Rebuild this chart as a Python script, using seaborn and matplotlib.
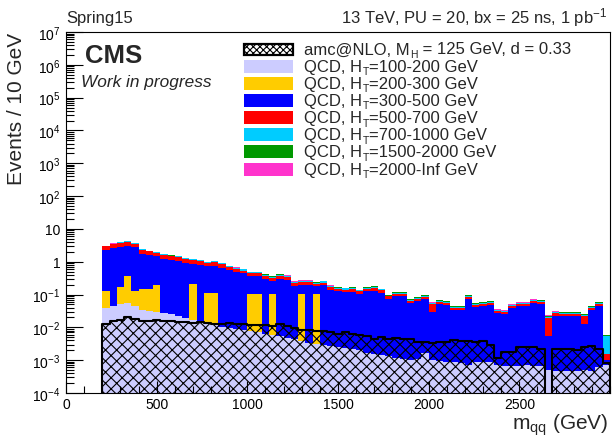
import numpy as np
import pandas as pd
import matplotlib
matplotlib.use("Agg")
import matplotlib.pyplot as plt
import seaborn as sns
from matplotlib.patches import Rectangle
from matplotlib.ticker import MultipleLocator, LogLocator, NullFormatter

sns.set_style("ticks")
plt.rcParams["font.family"] = ["Liberation Sans", "DejaVu Sans"]
plt.rcParams["mathtext.fontset"] = "custom"
plt.rcParams["mathtext.rm"] = "Liberation Sans"
plt.rcParams["mathtext.it"] = "Liberation Sans:italic"
plt.rcParams["mathtext.bf"] = "Liberation Sans:bold"
plt.rcParams["hatch.linewidth"] = 0.8
plt.rcParams["hatch.color"] = "black"

# ---------------- data (40 GeV bins from 200 to 3000 GeV) ----------------
bin_low = list(range(200, 3000, 40))
bin_width = 40

qcd_100_200 = [0.040, 0.045, 0.050, 0.055, 0.045, 0.035, 0.032, 0.030, 0.027, 0.025,
               0.022, 0.019, 0.017, 0.015, 0.013, 0.012, 0.0105, 0.0098, 0.0090, 0.0083,
               0.0076, 0.0070, 0.0064, 0.0058, 0.0053, 0.0048, 0.0043, 0.0038, 0.0034, 0.0031,
               0.0030, 0.0028, 0.0026, 0.0024, 0.0022, 0.0020, 0.0017, 0.0015, 0.0014, 0.0013,
               0.0012, 0.0011, 0.0010, 0.00105, 0.0016, 0.0010, 0.00095, 0.0009, 0.0009, 0.0008,
               0.0007, 0.0009, 0.00088, 0.00085, 0.0007, 0.00068, 0.00068, 0.00068, 0.0007, 0.00068,
               0.00065, 0.0005, 0.00048, 0.00048, 0.00048, 0.00048, 0.0005, 0.00048, 0.0006, 0.0007]

qcd_200_300 = [0.09, 0.0, 0.12, 0.30, 0.085, 0.11, 0.12, 0.17, 0.0, 0.0,
               0.0, 0.0, 0.20, 0.0, 0.10, 0.10, 0.0, 0.0, 0.0, 0.0,
               0.10, 0.10, 0.0, 0.10, 0.0, 0.0, 0.0, 0.10, 0.0, 0.10,
               0.0, 0.0, 0.0, 0.0, 0.0, 0.0, 0.0, 0.0, 0.0, 0.0,
               0.0, 0.0, 0.0, 0.0, 0.0, 0.0, 0.0, 0.0, 0.0, 0.0,
               0.0, 0.0, 0.0, 0.0, 0.0, 0.0, 0.0, 0.0, 0.0, 0.0,
               0.0, 0.0, 0.0, 0.0, 0.0, 0.0, 0.0, 0.0, 0.0, 0.0]

qcd_300_500 = [2.11, 2.56, 2.65, 2.75, 2.62, 1.59, 1.44, 1.25, 1.20, 1.10,
               1.03, 0.92, 0.65, 0.78, 0.61, 0.65, 0.64, 0.55, 0.49, 0.44,
               0.26, 0.26, 0.30, 0.16, 0.30, 0.28, 0.18, 0.096, 0.197, 0.075,
               0.19, 0.137, 0.123, 0.116, 0.12, 0.102, 0.124, 0.131, 0.11, 0.074,
               0.089, 0.089, 0.055, 0.063, 0.073, 0.029, 0.052, 0.048, 0.033, 0.032,
               0.074, 0.040, 0.043, 0.046, 0.026, 0.024, 0.037, 0.043, 0.043, 0.053,
               0.052, 0.0048, 0.022, 0.022, 0.022, 0.022, 0.0121, 0.034, 0.045, 0.0003]

qcd_500_700 = [0.68, 0.79, 0.86, 0.95, 0.84, 0.53, 0.48, 0.44, 0.37, 0.34,
               0.32, 0.29, 0.26, 0.24, 0.22, 0.23, 0.20, 0.114, 0.10, 0.09,
               0.075, 0.075, 0.063, 0.054, 0.063, 0.057, 0.038, 0.040, 0.040, 0.036,
               0.039, 0.029, 0.026, 0.024, 0.025, 0.021, 0.026, 0.027, 0.023, 0.012,
               0.014, 0.014, 0.009, 0.010, 0.012, 0.020, 0.008, 0.008, 0.006, 0.006,
               0.012, 0.007, 0.007, 0.008, 0.0045, 0.004, 0.006, 0.007, 0.007, 0.009,
               0.0085, 0.014, 0.004, 0.0036, 0.0036, 0.0036, 0.010, 0.0055, 0.007, 0.0005]

qcd_700_1000 = [0.155, 0.18, 0.195, 0.215, 0.19, 0.12, 0.11, 0.10, 0.085, 0.078,
                0.072, 0.065, 0.06, 0.055, 0.05, 0.053, 0.045, 0.053, 0.047, 0.042,
                0.035, 0.035, 0.029, 0.025, 0.029, 0.027, 0.018, 0.019, 0.019, 0.017,
                0.018, 0.013, 0.012, 0.011, 0.012, 0.010, 0.012, 0.013, 0.011, 0.006,
                0.007, 0.007, 0.0045, 0.005, 0.006, 0.0035, 0.004, 0.004, 0.003, 0.003,
                0.006, 0.0033, 0.0035, 0.0038, 0.002, 0.002, 0.003, 0.0035, 0.0035, 0.0043,
                0.0042, 0.002, 0.0019, 0.0018, 0.0018, 0.0018, 0.0016, 0.0028, 0.0036, 0.004]

qcd_1500_2000 = [0.012, 0.014, 0.016, 0.017, 0.015, 0.010, 0.009, 0.008, 0.007, 0.006,
                 0.006, 0.005, 0.005, 0.004, 0.004, 0.004, 0.004, 0.023, 0.020, 0.018,
                 0.015, 0.015, 0.013, 0.011, 0.013, 0.011, 0.0075, 0.008, 0.008, 0.007,
                 0.008, 0.006, 0.005, 0.005, 0.005, 0.004, 0.005, 0.005, 0.005, 0.005,
                 0.006, 0.006, 0.004, 0.004, 0.005, 0.003, 0.0035, 0.003, 0.0023, 0.0022,
                 0.005, 0.0028, 0.003, 0.003, 0.0018, 0.0017, 0.0025, 0.003, 0.003, 0.0036,
                 0.0035, 0.0012, 0.0016, 0.0015, 0.0015, 0.0015, 0.0013, 0.0023, 0.003, 0.0004]

qcd_2000_inf = [0.009, 0.011, 0.012, 0.013, 0.011, 0.007, 0.007, 0.006, 0.005, 0.005,
                0.004, 0.004, 0.004, 0.003, 0.003, 0.003, 0.003, 0.008, 0.007, 0.006,
                0.005, 0.005, 0.004, 0.004, 0.004, 0.004, 0.0025, 0.003, 0.003, 0.002,
                0.003, 0.002, 0.002, 0.002, 0.002, 0.001, 0.002, 0.002, 0.002, 0.002,
                0.002, 0.002, 0.0015, 0.002, 0.002, 0.0012, 0.0014, 0.0013, 0.0009, 0.0009,
                0.002, 0.0011, 0.0012, 0.0013, 0.0007, 0.0007, 0.001, 0.0012, 0.0012, 0.0014,
                0.0014, 0.0005, 0.0006, 0.0006, 0.0006, 0.0006, 0.0005, 0.0009, 0.0012, 0.0001]

signal_amcnlo = [0.013, 0.016, 0.017, 0.020, 0.018, 0.016, 0.016, 0.017, 0.016, 0.016,
                 0.015, 0.015, 0.014, 0.015, 0.014, 0.013, 0.013, 0.014, 0.013, 0.013,
                 0.012, 0.012, 0.0115, 0.011, 0.0125, 0.011, 0.0095, 0.0085, 0.0085, 0.008,
                 0.0075, 0.007, 0.0065, 0.007, 0.0065, 0.006, 0.0055, 0.0045, 0.005, 0.0045,
                 0.0047, 0.0043, 0.0045, 0.0035, 0.0036, 0.0034, 0.0036, 0.0037, 0.0040, 0.0038,
                 0.0038, 0.0036, 0.0038, 0.0030, 0.0012, 0.0018, 0.0018, 0.0025, 0.0025, 0.0025,
                 0.0022, 0.0, 0.0022, 0.0022, 0.0022, 0.0020, 0.0025, 0.0028, 0.0022, 0.0008]

# legend labels: (main text, subscript, rest)
signal_label = ("amc@NLO, M", "H", " = 125 GeV, d = 0.33")
stack_labels = [("QCD, H", "T", "=100-200 GeV"), ("QCD, H", "T", "=200-300 GeV"),
                ("QCD, H", "T", "=300-500 GeV"), ("QCD, H", "T", "=500-700 GeV"),
                ("QCD, H", "T", "=700-1000 GeV"), ("QCD, H", "T", "=1500-2000 GeV"),
                ("QCD, H", "T", "=2000-Inf GeV")]
stack_colors = ["#ccccff", "#ffcc00", "#0000ff", "#ff0000", "#00ccff", "#009900", "#ff33cc"]

ytick_values = [1e-4, 1e-3, 1e-2, 1e-1, 1, 10, 1e2, 1e3, 1e4, 1e5, 1e6, 1e7]
ytick_labels = [r"10$^{-4}$", r"10$^{-3}$", r"10$^{-2}$", r"10$^{-1}$", "1", "10",
                r"10$^{2}$", r"10$^{3}$", r"10$^{4}$", r"10$^{5}$", r"10$^{6}$", r"10$^{7}$"]
xtick_values = [0, 500, 1000, 1500, 2000, 2500]

# ---------------- figure ----------------
W, H = 612, 439
fig = plt.figure(figsize=(W / 100, H / 100), dpi=100)
ax = fig.add_axes([66 / W, 1 - 394 / H, (610 - 66) / W, (394 - 33) / H])

edges = [float(b) for b in bin_low] + [float(bin_low[-1] + bin_width)]
centers = [b + bin_width / 2 for b in bin_low]

series = [qcd_100_200, qcd_200_300, qcd_300_500, qcd_500_700,
          qcd_700_1000, qcd_1500_2000, qcd_2000_inf]
cum = np.cumsum(np.array(series, dtype=float), axis=0)

# draw like THStack: top cumulative first, each filled from the bottom
for k in range(len(series) - 1, -1, -1):
    df = pd.DataFrame({"m": centers, "w": cum[k]})
    sns.histplot(data=df, x="m", weights="w", bins=edges, element="step", fill=True,
                 color=stack_colors[k], alpha=1, linewidth=0, ax=ax)

# signal: hatched, not stacked
df_sig = pd.DataFrame({"m": centers, "w": signal_amcnlo})
sns.histplot(data=df_sig, x="m", weights="w", bins=edges, element="step",
             fill=True, color="black", facecolor="none", edgecolor="black", hatch="xxx",
             linewidth=1.5, ax=ax)

ax.set_yscale("log")
ax.set_xlim(0, 3000)
ax.set_ylim(1e-4, 1e7)
ax.set_xlabel("")
ax.set_ylabel("")

ax.set_yticks(ytick_values, ytick_labels)
ax.set_xticks(xtick_values, [str(v) for v in xtick_values])
ax.xaxis.set_minor_locator(MultipleLocator(100))
ax.yaxis.set_minor_locator(LogLocator(base=10, subs=np.arange(2, 10), numticks=30))
ax.yaxis.set_minor_formatter(NullFormatter())
ax.tick_params(which="both", direction="in", top=False, right=False, colors="black",
               labelsize=10, width=0.8)
ax.tick_params(axis="y", which="major", length=12, pad=4)
ax.tick_params(axis="y", which="minor", length=6)
ax.tick_params(axis="x", which="major", length=9, pad=3)
ax.tick_params(axis="x", which="minor", length=5)
for s in ax.spines.values():
    s.set_visible(True)
    s.set_linewidth(0.8)
    s.set_color("black")
ax.set_axisbelow(False)


def fx(px):
    return px / W


def fy(py):
    return 1 - py / H


# texts
fig.text(fx(66), fy(18), "Spring15", fontsize=12, ha="left", va="center")
fig.text(fx(607), fy(18), r"13 TeV, PU = 20, bx = 25 ns, 1 pb$^{-1}$", fontsize=12,
         ha="right", va="center")
fig.text(fx(85), fy(56), "CMS", fontsize=18.5, fontweight="bold", ha="left", va="center")
fig.text(fx(81), fy(83), "Work in progress", fontsize=12.4, style="italic",
         ha="left", va="center")
fig.text(fx(16.5), fy(33), "Events / 10 GeV", fontsize=15, rotation=90,
         ha="center", va="top")
fig.text(fx(609), fy(425), r"m$_{\rm qq}$ (GeV)", fontsize=15, ha="right", va="center")

# legend (ROOT-like: colour box + text with lowered subscript)
renderer = fig.canvas.get_renderer()


def label_with_sub(x_px, cy, parts, fs=12):
    main, sub, rest = parts
    t1 = fig.text(fx(x_px), fy(cy), main, fontsize=fs, ha="left", va="center")
    x1 = t1.get_window_extent(renderer).x1
    t2 = fig.text(fx(x1 + 0.5), fy(cy + 5), sub, fontsize=fs * 0.62, ha="left",
                  va="center")
    x2 = t2.get_window_extent(renderer).x1
    fig.text(fx(x2 + 0.3), fy(cy), rest, fontsize=fs, ha="left", va="center")


leg_labels = [signal_label] + stack_labels
row_h = 17.15
for i, lab in enumerate(leg_labels):
    cy = 50 + row_h * i
    if i == 0:
        rect = Rectangle((fx(244), fy(cy + 5.5)), fx(293) - fx(244), (11) / H,
                         transform=fig.transFigure, facecolor="white",
                         edgecolor="black", linewidth=1.6, hatch="xxxxx")
    else:
        rect = Rectangle((fx(244), fy(cy + 6.5)), fx(293) - fx(244), 13 / H,
                         transform=fig.transFigure, facecolor=stack_colors[i - 1],
                         edgecolor="none")
    fig.add_artist(rect)
    label_with_sub(304, cy, lab)

fig.savefig("out.png", dpi=100)
